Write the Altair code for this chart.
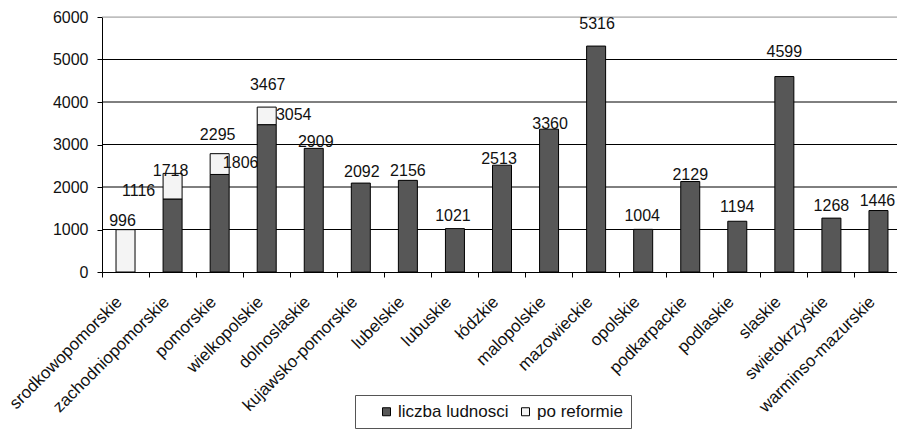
import altair as alt
import pandas as pd

# Voivodeships (names as printed on the axis)
regions = [
    "srodkowopomorskie", "zachodniopomorskie", "pomorskie", "wielkopolskie",
    "dolnoslaskie", "kujawsko-pomorskie", "lubelskie", "lubuskie", "łódzkie",
    "malopolskie", "mazowieckie", "opolskie", "podkarpackie", "podlaskie",
    "slaskie", "swietokrzyskie", "warminso-mazurskie",
]
# Population (thousands) before the reform; the new region has none
liczba_ludnosci = [None, 1718, 2295, 3467, 2909, 2092, 2156, 1021, 2513,
                   3360, 5316, 1004, 2129, 1194, 4599, 1268, 1446]
# Population (thousands) after the reform, only for the redrawn regions
po_reformie = [996, 1116, 1806, 3054, None, None, None, None, None,
               None, None, None, None, None, None, None, None]
y_ticks = [0, 1000, 2000, 3000, 4000, 5000, 6000]

SERIES = ["liczba ludnosci", "po reformie"]
FONT = "Liberation Sans"
PLOT_W, PLOT_H = 795, 255
RANGE_W = 800                      # pixel span of the category axis
HALF_BAND = RANGE_W / len(regions) / 2
UNITS_PER_PX = y_ticks[-1] / PLOT_H

# Bars: dark = population before, white segment on top = population moved by the reform
bar_rows = []
label_rows = []
for r, before, after in zip(regions, liczba_ludnosci, po_reformie):
    base = before or 0
    top = base
    if before is not None:
        bar_rows.append({"region": r, "series": SERIES[0], "y0": 0, "y1": before})
    if after is not None:
        shift = abs(after - base)
        top = base + shift
        bar_rows.append({"region": r, "series": SERIES[1], "y0": base, "y1": top})
    if before is not None:
        label_rows.append({"region": r, "text": str(before), "top": top, "kind": "before"})
    if after is not None:
        label_rows.append({"region": r, "text": str(after), "top": top, "kind": "after"})

# Hand placement of the value labels: (horizontal shift, lift of the baseline) in pixels
nudge_before = {
    "zachodniopomorskie": (-2, -3), "pomorskie": (-2, 14), "wielkopolskie": (1, 17),
    "dolnoslaskie": (2, 1), "kujawsko-pomorskie": (1, 6), "lubelskie": (0, 4),
    "lubuskie": (-2, 8), "łódzkie": (-3, 1), "malopolskie": (1, 0),
    "mazowieckie": (1, 17), "opolskie": (-1, 8), "podkarpackie": (0, 2),
    "podlaskie": (0, 9), "slaskie": (0, 20), "swietokrzyskie": (0, 7),
    "warminso-mazurskie": (-1, 5),
}
nudge_after = {
    "srodkowopomorskie": (-3, 4), "zachodniopomorskie": (-34, -23),
    "pomorskie": (21, -14), "wielkopolskie": (27, -13),
}
for row in label_rows:
    table = nudge_before if row["kind"] == "before" else nudge_after
    dx, lift = table.get(row["region"], (0, 5))
    row["dx"] = dx + HALF_BAND
    row["y"] = row["top"] + lift * UNITS_PER_PX

bars_df = pd.DataFrame(bar_rows)
labels_df = pd.DataFrame(label_rows)
grid_df = pd.DataFrame({"v": y_ticks[1:]})
grid_df["frame"] = grid_df["v"] == y_ticks[-1]

x_scale = alt.Scale(domain=regions, range=[0, RANGE_W], paddingInner=0, paddingOuter=0)
y_scale = alt.Scale(domain=[y_ticks[0], y_ticks[-1]], nice=False)

x_axis = alt.Axis(
    title=None, bandPosition=0, labelAngle=-45, labelAlign="right",
    labelBaseline="middle", labelOffset=-6, labelPadding=22,
    labelFont=FONT, labelFontSize=17, labelColor="#111",
    tickSize=5, tickColor="#000", domainColor="#000", labelOverlap=False,
    labelLimit=300,
)
y_axis = alt.Axis(
    title=None, values=y_ticks, format="d", grid=False,
    labelFont=FONT, labelFontSize=16, labelColor="#111", labelPadding=9,
    tickSize=5, tickColor="#000", domainColor="#000",
)

# Horizontal gridlines; the top one is the light frame of the plot area
grid = alt.Chart(grid_df).mark_rule(strokeWidth=1).encode(
    y=alt.Y("v:Q", scale=y_scale, axis=y_axis),
    color=alt.Color("frame:N", scale=alt.Scale(domain=[False, True],
                                                range=["#000000", "#a0a0a0"]),
                    legend=None),
)

bars = alt.Chart(bars_df).mark_bar(size=19, stroke="#000", strokeWidth=1).encode(
    x=alt.X("region:N", scale=x_scale, axis=x_axis, sort=regions),
    y=alt.Y("y0:Q", scale=y_scale, axis=y_axis),
    y2="y1:Q",
    fill=alt.Fill(
        "series:N",
        scale=alt.Scale(domain=SERIES, range=["#575757", "#f4f4f4"]),
        legend=alt.Legend(
            title="\u00a0", titleOrient="left", titlePadding=15, titleFontSize=18,
            orient="none", legendX=253, legendY=378,
            direction="horizontal", symbolType="square", symbolSize=64,
            symbolStrokeColor="#000", symbolStrokeWidth=1,
            labelFont=FONT, labelFontSize=17, labelColor="#111",
            strokeColor="#555", padding=8, columnPadding=8, labelOffset=3,
        ),
    ),
)

labels = alt.Chart(labels_df).mark_text(
    font=FONT, fontSize=16, color="#111", baseline="alphabetic", align="center"
).encode(
    x=alt.X("region:N", scale=x_scale, sort=regions),
    y=alt.Y("y:Q", scale=y_scale),
    xOffset=alt.XOffset("dx:Q", scale=None),
    text="text:N",
)

chart = alt.layer(grid, bars, labels).properties(
    width=PLOT_W, height=PLOT_H,
    autosize=alt.AutoSizeParams(type="none"),
    padding={"left": 102, "top": 17, "right": 0, "bottom": 157},
).configure_view(stroke=None).configure(background="white")

chart.save("out.html", embed_options={"renderer": "svg", "actions": False})
